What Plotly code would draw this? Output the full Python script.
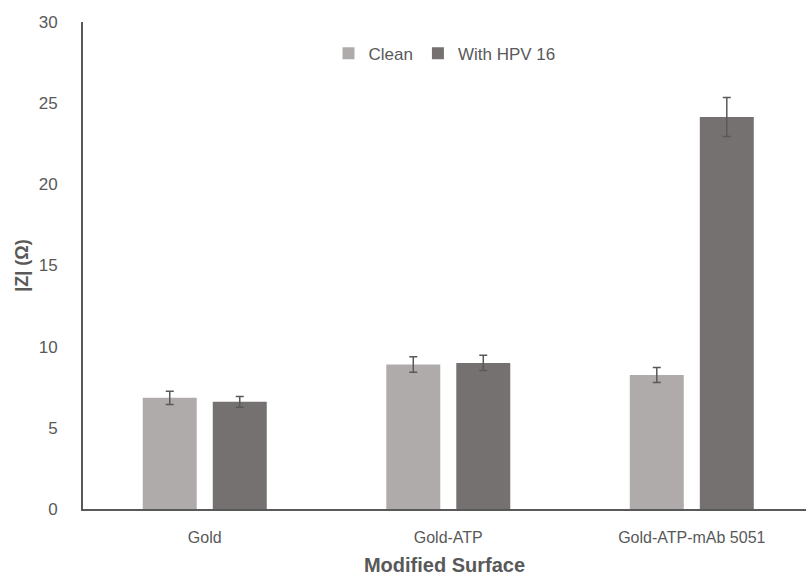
import plotly.graph_objects as go

categories = ["Gold", "Gold-ATP", "Gold-ATP-mAb 5051"]
clean_vals = [6.85, 8.9, 8.25]
clean_err = [0.41, 0.48, 0.46]
hpv_vals = [6.6, 9.0, 24.15]
hpv_err = [0.33, 0.47, 1.2]
y_ticks = [0, 5, 10, 15, 20, 25, 30]

font_family = "Liberation Sans, Arial, sans-serif"
axis_color = "#595959"

fig = go.Figure()
fig.add_trace(go.Bar(
    x=categories, y=clean_vals, name="Clean",
    marker=dict(color="#AFABAB", line=dict(width=0)),
    error_y=dict(type="data", array=clean_err, visible=True,
                 color="#595959", thickness=1.5, width=4),
))
fig.add_trace(go.Bar(
    x=categories, y=hpv_vals, name="With HPV 16",
    marker=dict(color="#767171", line=dict(width=0)),
    error_y=dict(type="data", array=hpv_err, visible=True,
                 color="#595959", thickness=1.5, width=4),
))

fig.update_layout(
    width=806, height=577,
    margin=dict(l=83, r=0, t=22, b=68),
    paper_bgcolor="white", plot_bgcolor="white",
    barmode="group", bargap=0.425, bargroupgap=0.229,
    font=dict(family=font_family, size=17, color=axis_color),
    showlegend=True,
    legend=dict(orientation="h", x=0.5, xanchor="center", y=0.972, yanchor="top",
                font=dict(size=17, color=axis_color), itemwidth=30,
                bgcolor="rgba(0,0,0,0)", traceorder="normal"),
)
fig.update_xaxes(
    range=[-0.5, 2.469], showline=True, linecolor=axis_color, linewidth=2,
    ticks="", showgrid=False, zeroline=False, ticklabelstandoff=13,
    tickfont=dict(size=16, color=axis_color),
    title=dict(text="<b>Modified Surface</b>", font=dict(size=20, color=axis_color), standoff=13),
)
fig.update_yaxes(
    range=[0, 30], tickvals=y_ticks, showline=True, linecolor=axis_color, linewidth=2,
    ticks="", showgrid=False, zeroline=False, ticklabelstandoff=20,
    tickfont=dict(size=17, color=axis_color),
    title=dict(text="<b>|Z| (Ω)</b>", font=dict(size=18, color=axis_color), standoff=5),
)

fig.write_html("out.html")
